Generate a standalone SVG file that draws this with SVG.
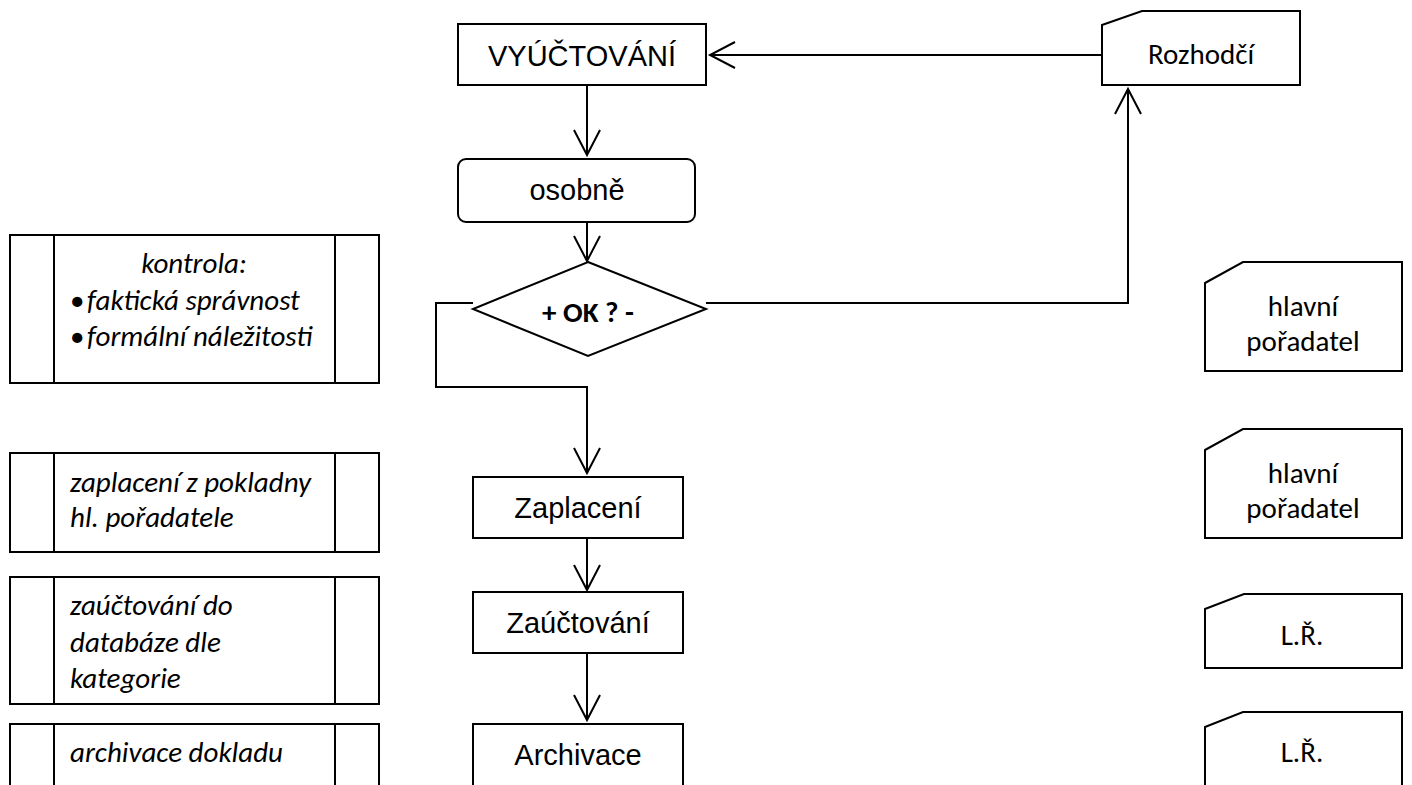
<svg xmlns="http://www.w3.org/2000/svg" width="1412" height="785" viewBox="0 0 1412 785">
<style>
.box{fill:#fff;stroke:#000;stroke-width:2}
.ln{fill:none;stroke:#000;stroke-width:2}
.ar{font-family:"Liberation Sans",Arial,sans-serif;font-size:29px;fill:#000;text-anchor:middle}
.cb{font-family:Carlito,Calibri,Lato,"Open Sans",sans-serif;font-size:29px;fill:#000}
.it{font-style:italic}
.mid{text-anchor:middle}
</style>
<defs>
<marker id="arr" markerUnits="userSpaceOnUse" markerWidth="40" markerHeight="40" refX="0" refY="0" orient="auto" overflow="visible">
<path d="M-25,-13 L0,0 L-25,13" fill="none" stroke="#000" stroke-width="2"/>
</marker>
</defs>
<rect width="1412" height="785" fill="#fff"/>
<g id="connectors">
<line class="ln" x1="587" y1="85" x2="587" y2="155" marker-end="url(#arr)"/>
<line class="ln" x1="587" y1="222" x2="587" y2="261" marker-end="url(#arr)"/>
<polyline class="ln" points="473,303 436,303 436,387 587,387 587,473" marker-end="url(#arr)"/>
<polyline class="ln" points="706,303 1128,303 1128,89" marker-end="url(#arr)"/>
<line class="ln" x1="1102" y1="55" x2="710" y2="55" marker-end="url(#arr)"/>
<line class="ln" x1="587" y1="538" x2="587" y2="590" marker-end="url(#arr)"/>
<line class="ln" x1="587" y1="653" x2="587" y2="720" marker-end="url(#arr)"/>
</g>
<g id="vyuctovani">
<rect class="box" x="458" y="24" width="248" height="61"/>
<text class="ar" x="582" y="66">VYÚČTOVÁNÍ</text>
</g>
<g id="osobne">
<rect class="box" x="458" y="159" width="237" height="63" rx="8"/>
<text class="ar" x="577" y="200">osobně</text>
</g>
<g id="ok">
<polygon class="box" points="588,262 706,309 588,356 473,309"/>
<text class="cb mid" x="588" y="322" font-weight="bold">+ OK ? -</text>
</g>
<g id="zaplaceni">
<rect class="box" x="473" y="477" width="210" height="61"/>
<text class="ar" x="578" y="518">Zaplacení</text>
</g>
<g id="zauctovani">
<rect class="box" x="473" y="592" width="210" height="61"/>
<text class="ar" x="578" y="633">Zaúčtování</text>
</g>
<g id="archivace">
<rect class="box" x="473" y="724" width="210" height="63"/>
<text class="ar" x="578" y="765">Archivace</text>
</g>
<g id="rozhodci">
<polygon class="box" points="1102,25 1142,11 1300,11 1300,85 1102,85"/>
<text class="cb mid" x="1201" y="64">Rozhodčí</text>
</g>
<g id="kontrola">
<rect class="box" x="10" y="235" width="369" height="148"/>
<line class="ln" x1="54" y1="235" x2="54" y2="383"/>
<line class="ln" x1="335" y1="235" x2="335" y2="383"/>
<text class="cb it mid" x="194" y="273">kontrola:</text>
<text class="cb" x="70" y="310">•</text>
<text class="cb it" x="87" y="310">faktická správnost</text>
<text class="cb" x="70" y="346">•</text>
<text class="cb it" x="87" y="346">formální náležitosti</text>
</g>
<g id="zaplaceni-popis">
<rect class="box" x="10" y="453" width="369" height="99"/>
<line class="ln" x1="54" y1="453" x2="54" y2="552"/>
<line class="ln" x1="335" y1="453" x2="335" y2="552"/>
<text class="cb it" x="70" y="492">zaplacení z pokladny</text>
<text class="cb it" x="70" y="527">hl. pořadatele</text>
</g>
<g id="zauctovani-popis">
<rect class="box" x="10" y="577" width="369" height="127"/>
<line class="ln" x1="54" y1="577" x2="54" y2="704"/>
<line class="ln" x1="335" y1="577" x2="335" y2="704"/>
<text class="cb it" x="70" y="615">zaúčtování do</text>
<text class="cb it" x="70" y="652">databáze dle</text>
<text class="cb it" x="70" y="688">kategorie</text>
</g>
<g id="archivace-popis">
<rect class="box" x="10" y="724" width="369" height="70"/>
<line class="ln" x1="54" y1="724" x2="54" y2="794"/>
<line class="ln" x1="335" y1="724" x2="335" y2="794"/>
<text class="cb it" x="70" y="762">archivace dokladu</text>
</g>
<g id="poradatel1">
<polygon class="box" points="1205,283 1243,262 1402,262 1402,371 1205,371"/>
<text class="cb mid" x="1303" y="316">hlavní</text>
<text class="cb mid" x="1303" y="351">pořadatel</text>
</g>
<g id="poradatel2">
<polygon class="box" points="1205,450 1243,429 1402,429 1402,538 1205,538"/>
<text class="cb mid" x="1303" y="483">hlavní</text>
<text class="cb mid" x="1303" y="518">pořadatel</text>
</g>
<g id="lr1">
<polygon class="box" points="1205,609 1244,594 1402,594 1402,668 1205,668"/>
<text class="cb mid" x="1302" y="645">L.Ř.</text>
</g>
<g id="lr2">
<polygon class="box" points="1205,727 1243,712 1402,712 1402,790 1205,790"/>
<text class="cb mid" x="1302" y="762">L.Ř.</text>
</g>
</svg>
